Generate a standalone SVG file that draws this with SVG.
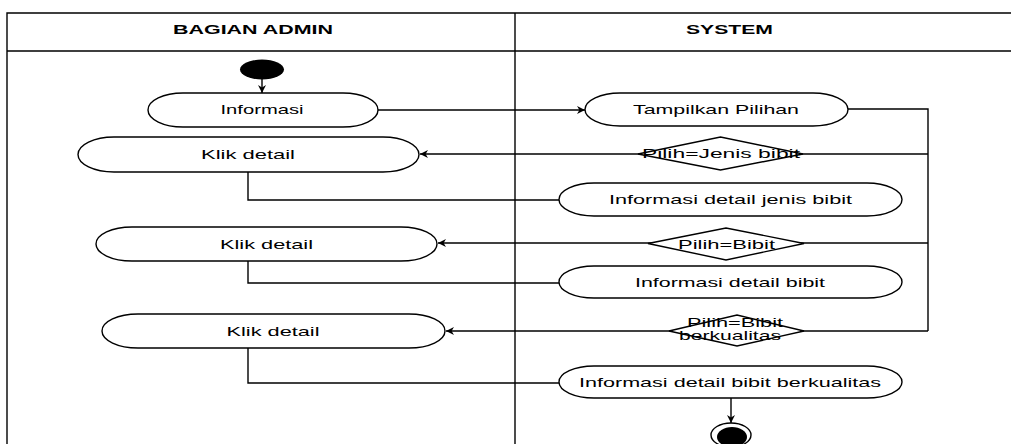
<svg xmlns="http://www.w3.org/2000/svg" width="1011" height="444" viewBox="0 0 1011 444">
<defs>
<style>
.lane{fill:none;stroke:#000;stroke-width:1.4}
.act{fill:#fff;stroke:#000;stroke-width:1.4}
.dec{fill:#fff;stroke:#000;stroke-width:1.4}
.con{fill:none;stroke:#000;stroke-width:1.4}
.t{font-family:"Liberation Sans",Arial,sans-serif;font-size:13px;fill:#000;text-anchor:middle}
.h{font-family:"Liberation Sans",Arial,sans-serif;font-size:12px;font-weight:bold;fill:#000;text-anchor:middle}
</style>
<marker id="arr" viewBox="0 0 10 10" refX="10" refY="5" markerWidth="9" markerHeight="8" markerUnits="userSpaceOnUse" orient="auto">
<path d="M0,0 L10,5 L0,10 L3,5 Z" fill="#000"/>
</marker>
</defs>
<rect width="1011" height="444" fill="#fff"/>
<g id="swimlanes">
<path class="lane" d="M7,460 V13 H1020 M7,51 H1020 M515,13 V460"/>
<text class="h" x="253" y="34" textLength="160" lengthAdjust="spacingAndGlyphs">BAGIAN ADMIN</text>
<text class="h" x="729.5" y="34" textLength="87" lengthAdjust="spacingAndGlyphs">SYSTEM</text>
</g>
<g id="connectors">
<path class="con" d="M262,79 V93" marker-end="url(#arr)"/>
<path class="con" d="M378,110 H585" marker-end="url(#arr)"/>
<path class="con" d="M848,109 H928 V331"/>
<path class="con" d="M928,154 H420" marker-end="url(#arr)"/>
<path class="con" d="M928,243 H438" marker-end="url(#arr)"/>
<path class="con" d="M928,331 H446" marker-end="url(#arr)"/>
<path class="con" d="M248,172 V200 H559"/>
<path class="con" d="M248,261 V283 H559"/>
<path class="con" d="M248,348 V383 H559"/>
<path class="con" d="M731,398 V423" marker-end="url(#arr)"/>
</g>
<g id="start"><ellipse cx="262" cy="69.5" rx="22" ry="10" fill="#000"/></g>
<g id="informasi">
<rect class="act" x="148" y="93" width="230" height="34" rx="35" ry="17"/>
<text class="t" x="262" y="114" textLength="83" lengthAdjust="spacingAndGlyphs">Informasi</text>
</g>
<g id="tampilkan">
<rect class="act" x="585" y="93" width="263" height="33" rx="35" ry="16.5"/>
<text class="t" x="716" y="114" textLength="166" lengthAdjust="spacingAndGlyphs">Tampilkan Pilihan</text>
</g>
<g id="dec1">
<polygon class="dec" points="638,154 720.5,137 803,154 720.5,170"/>
<text class="t" x="721" y="158" textLength="158" lengthAdjust="spacingAndGlyphs">Pilih=Jenis bibit</text>
</g>
<g id="klik1">
<rect class="act" x="78" y="137" width="341" height="35" rx="36" ry="17.5"/>
<text class="t" x="248" y="159" textLength="94" lengthAdjust="spacingAndGlyphs">Klik detail</text>
</g>
<g id="info-jenis">
<rect class="act" x="559" y="183" width="343" height="33" rx="35" ry="16.5"/>
<text class="t" x="730.5" y="204" textLength="243" lengthAdjust="spacingAndGlyphs">Informasi detail jenis bibit</text>
</g>
<g id="dec2">
<polygon class="dec" points="648,243.5 726,228 804,243.5 726,260"/>
<text class="t" x="726.5" y="249" textLength="97" lengthAdjust="spacingAndGlyphs">Pilih=Bibit</text>
</g>
<g id="klik2">
<rect class="act" x="96" y="227" width="341" height="34" rx="36" ry="17"/>
<text class="t" x="266.5" y="249" textLength="93" lengthAdjust="spacingAndGlyphs">Klik detail</text>
</g>
<g id="info-bibit">
<rect class="act" x="559" y="266" width="343" height="32" rx="35" ry="16"/>
<text class="t" x="730" y="287" textLength="190" lengthAdjust="spacingAndGlyphs">Informasi detail bibit</text>
</g>
<g id="dec3">
<polygon class="dec" points="669,331 737,315 804,331 737,346"/>
<text class="t" x="735" y="327" textLength="96" lengthAdjust="spacingAndGlyphs">Pilih=Bibit</text>
<text class="t" x="730" y="340" textLength="102" lengthAdjust="spacingAndGlyphs">berkualitas</text>
</g>
<g id="klik3">
<rect class="act" x="102" y="314" width="343" height="34" rx="36" ry="17"/>
<text class="t" x="273" y="336" textLength="93" lengthAdjust="spacingAndGlyphs">Klik detail</text>
</g>
<g id="info-berkualitas">
<rect class="act" x="559" y="366" width="343" height="32" rx="35" ry="16"/>
<text class="t" x="730" y="387" textLength="302" lengthAdjust="spacingAndGlyphs">Informasi detail bibit berkualitas</text>
</g>
<g id="end">
<ellipse cx="731" cy="435" rx="20" ry="12" fill="#fff" stroke="#000" stroke-width="1.4"/>
<ellipse cx="732" cy="437" rx="15" ry="10" fill="#000"/>
</g>
</svg>
